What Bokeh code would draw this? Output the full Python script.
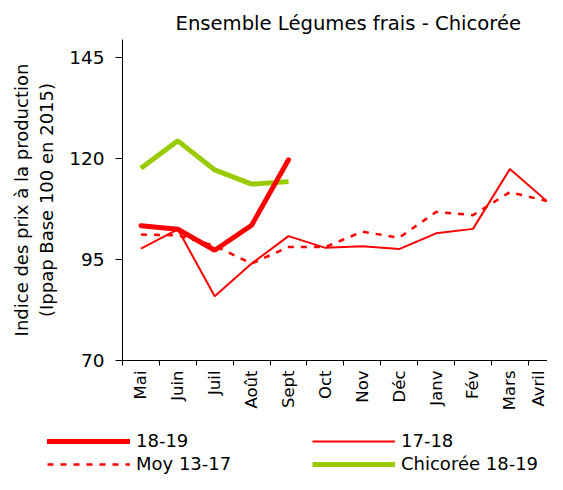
import numpy as np
from bokeh.plotting import figure
from bokeh.models import Range1d, FixedTicker, Legend, LegendItem
from bokeh.embed import file_html
from bokeh.resources import INLINE

# ---- data ----
months = ["Mai", "Juin", "Juil", "Août", "Sept", "Oct", "Nov", "Déc",
          "Janv", "Fév", "Mars", "Avril"]
s_18_19 = [103.4, 102.5, 97.3, 103.5, 119.7]
s_17_18 = [97.7, 102.5, 85.9, 94.0, 100.8, 97.9, 98.3, 97.6, 101.5, 102.6, 117.4, 109.5]
moy_13_17 = [101.2, 101.0, 98.4, 94.0, 98.1, 98.1, 101.9, 100.4, 106.8, 106.0, 111.7, 109.5]
chicoree_18_19 = [117.6, 124.4, 117.2, 113.7, 114.3]
y_ticks = [70, 95, 120, 145]
series_labels = ["18-19", "17-18", "Moy 13-17", "Chicorée 18-19"]

FONT = "DejaVu Sans"
RED = "#ff0000"
GREEN = "#99cc00"
styles = {
    "18-19": dict(line_color=RED, line_width=5, line_cap="round"),
    "17-18": dict(line_color=RED, line_width=2),
    "Moy 13-17": dict(line_color=RED, line_width=2.5, line_dash="6 7"),
    "Chicorée 18-19": dict(line_color=GREEN, line_width=5),
}

x_all = np.arange(len(months)) + 0.5
x_5 = x_all[:len(s_18_19)]
series_xy = {
    "18-19": (x_5, s_18_19),
    "17-18": (x_all, s_17_18),
    "Moy 13-17": (x_all, moy_13_17),
    "Chicorée 18-19": (x_5, chicoree_18_19),
}

p = figure(width=547, height=420, output_backend="svg", toolbar_location=None,
           x_range=Range1d(0, 11.52), y_range=Range1d(70, 149.5),
           min_border_left=122, min_border_right=0, min_border_top=39,
           min_border_bottom=60)
p.background_fill_color = "white"
p.border_fill_color = "white"
p.outline_line_color = None
p.xgrid.visible = False
p.ygrid.visible = False

for lab in ["Moy 13-17", "17-18", "Chicorée 18-19", "18-19"]:
    xs, ys = series_xy[lab]
    p.line(xs, ys, **styles[lab])

# title
p.title.text = "Ensemble Légumes frais - Chicorée"
p.title.text_font = FONT
p.title.text_font_size = "19.6px"
p.title.text_font_style = "normal"
p.title.text_color = "black"
p.title.align = "left"
p.title.offset = 53
p.title.standoff = 10

# y axis
ya = p.yaxis[0]
ya.ticker = FixedTicker(ticks=y_ticks)
ya.major_tick_out = 7
ya.major_tick_in = 0
ya.minor_tick_out = 0
ya.minor_tick_in = 0
ya.major_label_standoff = 11
ya.major_label_text_font = FONT
ya.major_label_text_font_size = "18.5px"
ya.major_label_text_color = "black"
ya.axis_line_color = "black"
ya.major_tick_line_color = "black"
ya.axis_label = "Indice des prix à la production\n(Ippap Base 100 en 2015)"
ya.axis_label_text_font = FONT
ya.axis_label_text_font_size = "18px"
ya.axis_label_text_font_style = "normal"
ya.axis_label_text_color = "black"
ya.axis_label_standoff = 9

# x axis
xa = p.xaxis[0]
xa.ticker = FixedTicker(ticks=list(x_all), minor_ticks=list(range(len(months) + 1)))
xa.major_label_overrides = {float(x): m for x, m in zip(x_all, months)}
xa.major_tick_out = 0
xa.major_tick_in = 0
xa.minor_tick_out = 5
xa.minor_tick_in = 0
xa.minor_tick_line_color = "black"
xa.major_label_orientation = np.pi / 2
xa.major_label_standoff = 5
xa.major_label_text_font = FONT
xa.major_label_text_font_size = "16.5px"
xa.major_label_text_color = "black"
xa.axis_line_color = "black"

# legend strip below the chart (its lines lie outside its own ranges)
pl = figure(width=547, height=54, output_backend="svg", toolbar_location=None,
            x_range=Range1d(-2, -1), y_range=Range1d(-2, -1),
            x_axis_location=None, y_axis_location=None,
            min_border=0, min_border_left=0, min_border_right=0,
            min_border_top=0, min_border_bottom=0)
pl.outline_line_color = None
pl.xgrid.visible = False
pl.ygrid.visible = False
pl.background_fill_color = "white"
pl.border_fill_color = "white"

items = []
for lab in series_labels:
    xs, ys = series_xy[lab]
    r = pl.line(xs, ys, **styles[lab])
    items.append(LegendItem(label=lab, renderers=[r]))

legend = Legend(items=items, location=(47, 0), orientation="horizontal", ncols=2,
                glyph_width=83, glyph_height=18, label_height=18, label_width=174,
                label_standoff=6, spacing=2, padding=0, margin=0,
                border_line_alpha=0, background_fill_alpha=0,
                label_text_font=FONT, label_text_font_size="18px",
                label_text_color="black")
pl.add_layout(legend, "center")

open("out.html", "w").write(file_html([p, pl], INLINE))
